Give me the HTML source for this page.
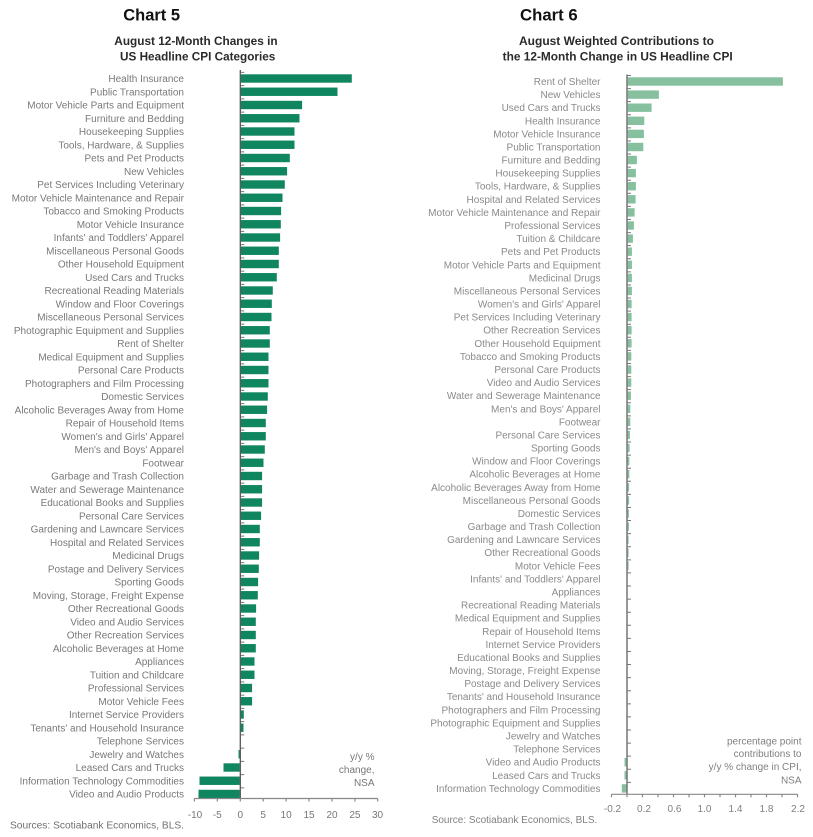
<!DOCTYPE html>
<html><head><meta charset="utf-8"><style>
html,body{margin:0;padding:0;background:#fff;}
body{width:813px;height:837px;overflow:hidden;}
svg{display:block;}
</style></head><body>
<svg width="813" height="837" viewBox="0 0 813 837" xmlns="http://www.w3.org/2000/svg">
<rect width="813" height="837" fill="#fff"/>
<!-- Titles -->
<g font-family="Liberation Sans, sans-serif" font-weight="bold" fill="#111">
<text x="123.3" y="20.7" font-size="17" textLength="56.7" lengthAdjust="spacingAndGlyphs">Chart 5</text>
<text x="520" y="20.7" font-size="17" textLength="57.7" lengthAdjust="spacingAndGlyphs">Chart 6</text>
</g>
<g font-family="Liberation Sans, sans-serif" font-weight="bold" fill="#2a2a2a" font-size="11.5">
<text x="114.3" y="45" textLength="163.3" lengthAdjust="spacingAndGlyphs">August 12-Month Changes in</text>
<text x="120" y="60.7" textLength="155.3" lengthAdjust="spacingAndGlyphs">US Headline CPI Categories</text>
<text x="519" y="45" textLength="195" lengthAdjust="spacingAndGlyphs">August Weighted Contributions to</text>
<text x="502.7" y="60.7" textLength="230" lengthAdjust="spacingAndGlyphs">the 12-Month Change in US Headline CPI</text>
</g>

<!-- Chart 5 labels -->
<g font-family="Liberation Sans, sans-serif" font-size="10" fill="#797979" text-anchor="end">
<text x="184" y="82">Health Insurance</text>
<text x="184" y="95.25">Public Transportation</text>
<text x="184" y="108.5">Motor Vehicle Parts and Equipment</text>
<text x="184" y="121.75">Furniture and Bedding</text>
<text x="184" y="135">Housekeeping Supplies</text>
<text x="184" y="148.25">Tools, Hardware, &amp; Supplies</text>
<text x="184" y="161.5">Pets and Pet Products</text>
<text x="184" y="174.75">New Vehicles</text>
<text x="184" y="188">Pet Services Including Veterinary</text>
<text x="184" y="201.25">Motor Vehicle Maintenance and Repair</text>
<text x="184" y="214.5">Tobacco and Smoking Products</text>
<text x="184" y="227.75">Motor Vehicle Insurance</text>
<text x="184" y="241">Infants' and Toddlers' Apparel</text>
<text x="184" y="254.25">Miscellaneous Personal Goods</text>
<text x="184" y="267.5">Other Household Equipment</text>
<text x="184" y="280.75">Used Cars and Trucks</text>
<text x="184" y="294">Recreational Reading Materials</text>
<text x="184" y="307.25">Window and Floor Coverings</text>
<text x="184" y="320.5">Miscellaneous Personal Services</text>
<text x="184" y="333.75">Photographic Equipment and Supplies</text>
<text x="184" y="347">Rent of Shelter</text>
<text x="184" y="360.25">Medical Equipment and Supplies</text>
<text x="184" y="373.5">Personal Care Products</text>
<text x="184" y="386.75">Photographers and Film Processing</text>
<text x="184" y="400">Domestic Services</text>
<text x="184" y="413.25">Alcoholic Beverages Away from Home</text>
<text x="184" y="426.5">Repair of Household Items</text>
<text x="184" y="439.75">Women's and Girls' Apparel</text>
<text x="184" y="453">Men's and Boys' Apparel</text>
<text x="184" y="466.25">Footwear</text>
<text x="184" y="479.5">Garbage and Trash Collection</text>
<text x="184" y="492.75">Water and Sewerage Maintenance</text>
<text x="184" y="506">Educational Books and Supplies</text>
<text x="184" y="519.25">Personal Care Services</text>
<text x="184" y="532.5">Gardening and Lawncare Services</text>
<text x="184" y="545.75">Hospital and Related Services</text>
<text x="184" y="559">Medicinal Drugs</text>
<text x="184" y="572.25">Postage and Delivery Services</text>
<text x="184" y="585.5">Sporting Goods</text>
<text x="184" y="598.75">Moving, Storage, Freight Expense</text>
<text x="184" y="612">Other Recreational Goods</text>
<text x="184" y="625.25">Video and Audio Services</text>
<text x="184" y="638.5">Other Recreation Services</text>
<text x="184" y="651.75">Alcoholic Beverages at Home</text>
<text x="184" y="665">Appliances</text>
<text x="184" y="678.25">Tuition and Childcare</text>
<text x="184" y="691.5">Professional Services</text>
<text x="184" y="704.75">Motor Vehicle Fees</text>
<text x="184" y="718">Internet Service Providers</text>
<text x="184" y="731.25">Tenants' and Household Insurance</text>
<text x="184" y="744.5">Telephone Services</text>
<text x="184" y="757.75">Jewelry and Watches</text>
<text x="184" y="771">Leased Cars and Trucks</text>
<text x="184" y="784.25">Information Technology Commodities</text>
<text x="184" y="797.5">Video and Audio Products</text>
</g>

<!-- Chart 5 bars -->
<g fill="#108660">
<rect x="240.8" y="74.3" width="111" height="8.4"/>
<rect x="240.8" y="87.55" width="96.7" height="8.4"/>
<rect x="240.8" y="100.8" width="61.3" height="8.4"/>
<rect x="240.8" y="114.05" width="58.7" height="8.4"/>
<rect x="240.8" y="127.3" width="53.7" height="8.4"/>
<rect x="240.8" y="140.55" width="53.7" height="8.4"/>
<rect x="240.8" y="153.8" width="49" height="8.4"/>
<rect x="240.8" y="167.05" width="46.3" height="8.4"/>
<rect x="240.8" y="180.3" width="44" height="8.4"/>
<rect x="240.8" y="193.55" width="41.7" height="8.4"/>
<rect x="240.8" y="206.8" width="40.3" height="8.4"/>
<rect x="240.8" y="220.05" width="40" height="8.4"/>
<rect x="240.8" y="233.3" width="39.3" height="8.4"/>
<rect x="240.8" y="246.55" width="38" height="8.4"/>
<rect x="240.8" y="259.8" width="38" height="8.4"/>
<rect x="240.8" y="273.05" width="36" height="8.4"/>
<rect x="240.8" y="286.3" width="32" height="8.4"/>
<rect x="240.8" y="299.55" width="31" height="8.4"/>
<rect x="240.8" y="312.8" width="30.7" height="8.4"/>
<rect x="240.8" y="326.05" width="29" height="8.4"/>
<rect x="240.8" y="339.3" width="29" height="8.4"/>
<rect x="240.8" y="352.55" width="27.7" height="8.4"/>
<rect x="240.8" y="365.8" width="27.7" height="8.4"/>
<rect x="240.8" y="379.05" width="27.7" height="8.4"/>
<rect x="240.8" y="392.3" width="27" height="8.4"/>
<rect x="240.8" y="405.55" width="26.3" height="8.4"/>
<rect x="240.8" y="418.8" width="25" height="8.4"/>
<rect x="240.8" y="432.05" width="25" height="8.4"/>
<rect x="240.8" y="445.3" width="24" height="8.4"/>
<rect x="240.8" y="458.55" width="22.7" height="8.4"/>
<rect x="240.8" y="471.8" width="21.3" height="8.4"/>
<rect x="240.8" y="485.05" width="21.3" height="8.4"/>
<rect x="240.8" y="498.3" width="21.3" height="8.4"/>
<rect x="240.8" y="511.55" width="20.3" height="8.4"/>
<rect x="240.8" y="524.8" width="19" height="8.4"/>
<rect x="240.8" y="538.05" width="19" height="8.4"/>
<rect x="240.8" y="551.3" width="18.3" height="8.4"/>
<rect x="240.8" y="564.55" width="18" height="8.4"/>
<rect x="240.8" y="577.8" width="17.3" height="8.4"/>
<rect x="240.8" y="591.05" width="17" height="8.4"/>
<rect x="240.8" y="604.3" width="15.3" height="8.4"/>
<rect x="240.8" y="617.55" width="15" height="8.4"/>
<rect x="240.8" y="630.8" width="15" height="8.4"/>
<rect x="240.8" y="644.05" width="15" height="8.4"/>
<rect x="240.8" y="657.3" width="13.7" height="8.4"/>
<rect x="240.8" y="670.55" width="13.7" height="8.4"/>
<rect x="240.8" y="683.8" width="11.3" height="8.4"/>
<rect x="240.8" y="697.05" width="11.3" height="8.4"/>
<rect x="240.8" y="710.3" width="3" height="8.4"/>
<rect x="240.8" y="723.55" width="2.7" height="8.4"/>
<rect x="238.5" y="750.05" width="1.3" height="8.4"/>
<rect x="223.5" y="763.3" width="16.3" height="8.4"/>
<rect x="199.5" y="776.55" width="40.3" height="8.4"/>
<rect x="198.5" y="789.8" width="41.3" height="8.4"/>
</g>

<!-- Chart 5 axes -->
<line x1="242.3" y1="71.9" x2="242.3" y2="798" stroke="#777" stroke-width="4" stroke-dasharray="1 12.25"/>
<line x1="240.3" y1="70" x2="240.3" y2="798.5" stroke="#555" stroke-width="1.3"/>
<line x1="194.4" y1="798.5" x2="377.7" y2="798.5" stroke="#888" stroke-width="1.2"/>
<path d="M194.4 798.5v3M217.3 798.5v3M240.3 798.5v3M263.2 798.5v3M286.1 798.5v3M309 798.5v3M332 798.5v3M354.9 798.5v3M377.7 798.5v3" stroke="#888" stroke-width="1.2" fill="none"/>
<g font-family="Liberation Sans, sans-serif" font-size="10" fill="#777" text-anchor="middle">
<text x="195" y="818">-10</text>
<text x="217.3" y="818">-5</text>
<text x="240.3" y="818">0</text>
<text x="263.2" y="818">5</text>
<text x="286.1" y="818">10</text>
<text x="309" y="818">15</text>
<text x="332" y="818">20</text>
<text x="354.9" y="818">25</text>
<text x="377.5" y="818">30</text>
</g>
<g font-family="Liberation Sans, sans-serif" font-size="10" fill="#777" text-anchor="end">
<text x="374.5" y="760">y/y %</text>
<text x="374.5" y="773">change,</text>
<text x="374.5" y="786">NSA</text>
</g>
<text x="10" y="828.5" font-family="Liberation Sans, sans-serif" font-size="10" fill="#707070" textLength="174" lengthAdjust="spacingAndGlyphs">Sources: Scotiabank Economics, BLS.</text>

<!-- Chart 6 labels -->
<g font-family="Liberation Sans, sans-serif" font-size="10" fill="#8a8a8a" text-anchor="end">
<text x="600.5" y="85">Rent of Shelter</text>
<text x="600.5" y="98.1">New Vehicles</text>
<text x="600.5" y="111.2">Used Cars and Trucks</text>
<text x="600.5" y="124.3">Health Insurance</text>
<text x="600.5" y="137.4">Motor Vehicle Insurance</text>
<text x="600.5" y="150.5">Public Transportation</text>
<text x="600.5" y="163.5">Furniture and Bedding</text>
<text x="600.5" y="176.6">Housekeeping Supplies</text>
<text x="600.5" y="189.7">Tools, Hardware, &amp; Supplies</text>
<text x="600.5" y="202.8">Hospital and Related Services</text>
<text x="600.5" y="215.9">Motor Vehicle Maintenance and Repair</text>
<text x="600.5" y="229">Professional Services</text>
<text x="600.5" y="242.1">Tuition &amp; Childcare</text>
<text x="600.5" y="255.2">Pets and Pet Products</text>
<text x="600.5" y="268.3">Motor Vehicle Parts and Equipment</text>
<text x="600.5" y="281.4">Medicinal Drugs</text>
<text x="600.5" y="294.4">Miscellaneous Personal Services</text>
<text x="600.5" y="307.5">Women's and Girls' Apparel</text>
<text x="600.5" y="320.6">Pet Services Including Veterinary</text>
<text x="600.5" y="333.7">Other Recreation Services</text>
<text x="600.5" y="346.8">Other Household Equipment</text>
<text x="600.5" y="359.9">Tobacco and Smoking Products</text>
<text x="600.5" y="373">Personal Care Products</text>
<text x="600.5" y="386.1">Video and Audio Services</text>
<text x="600.5" y="399.2">Water and Sewerage Maintenance</text>
<text x="600.5" y="412.3">Men's and Boys' Apparel</text>
<text x="600.5" y="425.3">Footwear</text>
<text x="600.5" y="438.4">Personal Care Services</text>
<text x="600.5" y="451.5">Sporting Goods</text>
<text x="600.5" y="464.6">Window and Floor Coverings</text>
<text x="600.5" y="477.7">Alcoholic Beverages at Home</text>
<text x="600.5" y="490.8">Alcoholic Beverages Away from Home</text>
<text x="600.5" y="503.9">Miscellaneous Personal Goods</text>
<text x="600.5" y="517">Domestic Services</text>
<text x="600.5" y="530.1">Garbage and Trash Collection</text>
<text x="600.5" y="543.2">Gardening and Lawncare Services</text>
<text x="600.5" y="556.2">Other Recreational Goods</text>
<text x="600.5" y="569.3">Motor Vehicle Fees</text>
<text x="600.5" y="582.4">Infants' and Toddlers' Apparel</text>
<text x="600.5" y="595.5">Appliances</text>
<text x="600.5" y="608.6">Recreational Reading Materials</text>
<text x="600.5" y="621.7">Medical Equipment and Supplies</text>
<text x="600.5" y="634.8">Repair of Household Items</text>
<text x="600.5" y="647.9">Internet Service Providers</text>
<text x="600.5" y="661">Educational Books and Supplies</text>
<text x="600.5" y="674">Moving, Storage, Freight Expense</text>
<text x="600.5" y="687.1">Postage and Delivery Services</text>
<text x="600.5" y="700.2">Tenants' and Household Insurance</text>
<text x="600.5" y="713.3">Photographers and Film Processing</text>
<text x="600.5" y="726.4">Photographic Equipment and Supplies</text>
<text x="600.5" y="739.5">Jewelry and Watches</text>
<text x="600.5" y="752.6">Telephone Services</text>
<text x="600.5" y="765.7">Video and Audio Products</text>
<text x="600.5" y="778.8">Leased Cars and Trucks</text>
<text x="600.5" y="791.9">Information Technology Commodities</text>
</g>

<!-- Chart 6 bars -->
<g fill="#86c09f">
<rect x="627.6" y="77.3" width="155.3" height="8.4"/>
<rect x="627.6" y="90.4" width="31.3" height="8.4"/>
<rect x="627.6" y="103.5" width="24" height="8.4"/>
<rect x="627.6" y="116.6" width="16.7" height="8.4"/>
<rect x="627.6" y="129.7" width="16.3" height="8.4"/>
<rect x="627.6" y="142.8" width="15.7" height="8.4"/>
<rect x="627.6" y="155.8" width="9.3" height="8.4"/>
<rect x="627.6" y="168.9" width="8.3" height="8.4"/>
<rect x="627.6" y="182" width="8.3" height="8.4"/>
<rect x="627.6" y="195.1" width="8" height="8.4"/>
<rect x="627.6" y="208.2" width="7" height="8.4"/>
<rect x="627.6" y="221.3" width="6.3" height="8.4"/>
<rect x="627.6" y="234.4" width="5.3" height="8.4"/>
<rect x="627.6" y="247.5" width="4.3" height="8.4"/>
<rect x="627.6" y="260.6" width="4.3" height="8.4"/>
<rect x="627.6" y="273.7" width="4.3" height="8.4"/>
<rect x="627.6" y="286.7" width="4.3" height="8.4"/>
<rect x="627.6" y="299.8" width="4" height="8.4"/>
<rect x="627.6" y="312.9" width="4" height="8.4"/>
<rect x="627.6" y="326" width="4" height="8.4"/>
<rect x="627.6" y="339.1" width="4" height="8.4"/>
<rect x="627.6" y="352.2" width="3.7" height="8.4"/>
<rect x="627.6" y="365.3" width="3.7" height="8.4"/>
<rect x="627.6" y="378.4" width="3.7" height="8.4"/>
<rect x="627.6" y="391.5" width="3.3" height="8.4"/>
<rect x="627.6" y="404.6" width="2.7" height="8.4"/>
<rect x="627.6" y="417.6" width="2.7" height="8.4"/>
<rect x="627.6" y="430.7" width="2.3" height="8.4"/>
<rect x="627.6" y="443.8" width="2" height="8.4"/>
<rect x="627.6" y="456.9" width="1.7" height="8.4"/>
<rect x="627.6" y="470" width="1.7" height="8.4"/>
<rect x="627.6" y="483.1" width="1.5" height="8.4"/>
<rect x="627.6" y="496.2" width="1.5" height="8.4"/>
<rect x="627.6" y="509.3" width="1.3" height="8.4"/>
<rect x="627.6" y="522.4" width="1.3" height="8.4"/>
<rect x="627.6" y="535.5" width="1" height="8.4"/>
<rect x="627.6" y="548.5" width="1" height="8.4"/>
<rect x="627.6" y="561.6" width="1" height="8.4"/>
<rect x="624.5" y="758" width="2" height="8.4"/>
<rect x="624.5" y="771.1" width="2" height="8.4"/>
<rect x="621.8" y="784.2" width="4.7" height="8.4"/>
</g>

<!-- Chart 6 axes -->
<line x1="629" y1="75" x2="629" y2="794" stroke="#777" stroke-width="4" stroke-dasharray="1 12.09"/>
<line x1="627" y1="74.5" x2="627" y2="794.3" stroke="#777" stroke-width="1.5"/>
<line x1="611.5" y1="794.3" x2="797.5" y2="794.3" stroke="#888" stroke-width="1.2"/>
<path d="M611.5 794.3v3M627 794.3v3M642.5 794.3v3M658 794.3v3M673.5 794.3v3M689 794.3v3M704.5 794.3v3M720 794.3v3M735.5 794.3v3M751 794.3v3M766.5 794.3v3M782 794.3v3M797.5 794.3v3" stroke="#888" stroke-width="1.2" fill="none"/>
<g font-family="Liberation Sans, sans-serif" font-size="10" fill="#808080" text-anchor="middle">
<text x="612.5" y="812">-0.2</text>
<text x="644" y="812">0.2</text>
<text x="674.5" y="812">0.6</text>
<text x="704.5" y="812">1.0</text>
<text x="735.5" y="812">1.4</text>
<text x="766.5" y="812">1.8</text>
<text x="798" y="812">2.2</text>
</g>
<g font-family="Liberation Sans, sans-serif" font-size="10" fill="#808080" text-anchor="end">
<text x="801.5" y="744.3">percentage point</text>
<text x="801.5" y="757">contributions to</text>
<text x="801.5" y="770">y/y % change in CPI,</text>
<text x="801.5" y="783.3">NSA</text>
</g>
<text x="431.7" y="823" font-family="Liberation Sans, sans-serif" font-size="10" fill="#808080" textLength="165.6" lengthAdjust="spacingAndGlyphs">Source: Scotiabank Economics, BLS.</text>
</svg>
</body></html>
